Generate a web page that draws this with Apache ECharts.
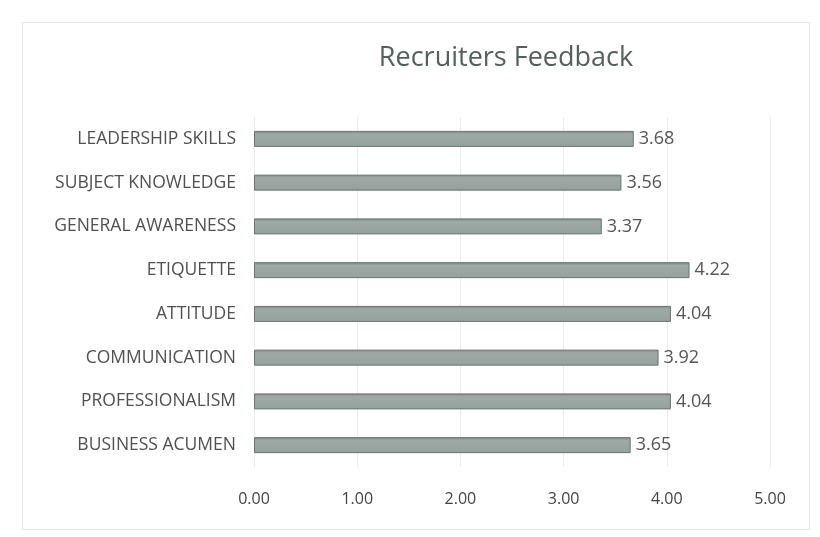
<!DOCTYPE html>
<html>
<head>
<meta charset="utf-8">
<script src="https://cdn.jsdelivr.net/npm/echarts@6/dist/echarts.min.js"></script>
<style>
html,body{margin:0;padding:0;background:#fff;}
#frame{position:absolute;left:22px;top:22px;width:786px;height:506px;border:1px solid #e6e6e6;}
#c{position:absolute;left:0;top:0;width:820px;height:537px;}
</style>
</head>
<body>
<div id="frame"></div>
<div id="c"></div>
<script>
const categories = ['BUSINESS ACUMEN','PROFESSIONALISM','COMMUNICATION','ATTITUDE','ETIQUETTE','GENERAL AWARENESS','SUBJECT KNOWLEDGE','LEADERSHIP SKILLS'];
const values = [3.65, 4.04, 3.92, 4.04, 4.22, 3.37, 3.56, 3.68];
const xTicks = [0, 1, 2, 3, 4, 5];

const chart = echarts.init(document.getElementById('c'));
chart.setOption({
  animation: false,
  title: {
    text: 'Recruiters Feedback',
    left: 501, top: 40, textAlign: 'center',
    textStyle: {color: '#52625b', fontSize: 27, fontWeight: 'normal', fontFamily: 'Open Sans'}
  },
  grid: {left: 254, right: 50, top: 117, bottom: 70},
  xAxis: {
    type: 'value', min: 0, max: 5, interval: 1,
    axisLine: {show: false}, axisTick: {show: false},
    splitLine: {show: true, lineStyle: {color: '#ececec', width: 1}},
    axisLabel: {color: '#444', fontSize: 16, fontFamily: 'Open Sans', margin: 24,
      formatter: v => xTicks.includes(v) ? v.toFixed(2) : ''}
  },
  yAxis: {
    type: 'category', data: categories,
    axisLine: {show: false}, axisTick: {show: false},
    axisLabel: {color: '#505050', fontSize: 17.5, fontFamily: 'Open Sans', margin: 18}
  },
  series: [{
    type: 'bar', data: values, barWidth: 16,
    itemStyle: {
      color: new echarts.graphic.LinearGradient(0, 0, 0, 1, [
        {offset: 0, color: '#77847f'},
        {offset: 0.2, color: '#9faaa6'},
        {offset: 1, color: '#95a19c'}
      ]),
      borderColor: '#6a7570', borderWidth: 1
    },
    label: {show: true, position: 'right', distance: 5, color: '#555', fontSize: 18, fontFamily: 'Open Sans',
      formatter: p => p.value.toFixed(2)}
  }]
});
</script>
</body>
</html>
